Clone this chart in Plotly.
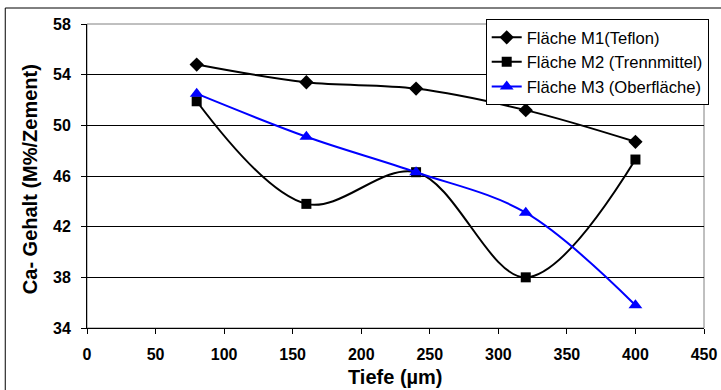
import plotly.graph_objects as go

tiefe = [80, 160, 240, 320, 400]
m1_teflon = [54.8, 53.4, 52.9, 51.2, 48.7]
m2_trennmittel = [51.9, 43.8, 46.3, 38.0, 47.3]
m3_oberflaeche = [52.5, 49.1, 46.3, 43.1, 35.8]

names = ["Fläche M1(Teflon)", "Fläche M2 (Trennmittel)", "Fläche M3 (Oberfläche)"]
x_ticks = [0, 50, 100, 150, 200, 250, 300, 350, 400, 450]
y_ticks = [34, 38, 42, 46, 50, 54, 58]
x_title = "Tiefe (µm)"
y_title = "Ca- Gehalt (M%/Zement)"

FONT = "Arial, Liberation Sans, sans-serif"

fig = go.Figure()
fig.add_trace(go.Scatter(
    x=tiefe, y=m1_teflon, name=names[0], mode="lines+markers",
    line=dict(color="black", width=2, shape="spline"),
    marker=dict(symbol="diamond", size=11, color="black")))
fig.add_trace(go.Scatter(
    x=tiefe, y=m2_trennmittel, name=names[1], mode="lines+markers",
    line=dict(color="black", width=2, shape="spline"),
    marker=dict(symbol="square", size=10, color="black")))
fig.add_trace(go.Scatter(
    x=tiefe, y=m3_oberflaeche, name=names[2], mode="lines+markers",
    line=dict(color="#0000FF", width=2, shape="spline"),
    marker=dict(symbol="triangle-up", size=12, color="#0000FF")))

L, R, T, B = 87, 15, 24, 62
W, H = 721, 390
pw, ph = W - L - R, H - T - B


def px_x(p):
    return (p - L) / pw


def px_y(p):
    return 1 - (p - T) / ph


shapes = [
    dict(type="rect", xref="paper", yref="paper", x0=0, x1=1, y0=0, y1=1,
         line=dict(color="#808080", width=1), layer="below"),
    dict(type="rect", xref="paper", yref="paper",
         x0=px_x(5), x1=px_x(730), y0=px_y(400), y1=px_y(8),
         line=dict(color="black", width=1), layer="below"),
]

annotations = [
    dict(text="<b>" + x_title + "</b>", xref="paper", yref="paper",
         x=px_x(397), y=px_y(377), xanchor="center", yanchor="middle",
         showarrow=False, font=dict(family=FONT, size=20, color="black")),
    dict(text="<b>" + y_title + "</b>", xref="paper", yref="paper",
         x=px_x(30), y=px_y(179), xanchor="center", yanchor="middle",
         textangle=-90, showarrow=False,
         font=dict(family=FONT, size=20, color="black")),
]

fig.update_layout(
    width=W, height=H,
    margin=dict(l=L, r=R, t=T, b=B, pad=0),
    paper_bgcolor="white", plot_bgcolor="white",
    font=dict(family=FONT, color="black"),
    showlegend=True,
    legend=dict(
        x=px_x(487), y=px_y(19), xanchor="left", yanchor="top",
        bgcolor="white", bordercolor="black", borderwidth=1,
        font=dict(family=FONT, size=16.6, color="black"),
        tracegroupgap=0, itemwidth=30),
    xaxis=dict(
        range=[0, 450], tickvals=x_ticks, ticktext=[str(v) for v in x_ticks],
        showgrid=False, zeroline=False, automargin=False,
        showline=True, linecolor="black", linewidth=1,
        ticks="outside", ticklen=5, tickcolor="black", ticklabelstandoff=7,
        tickfont=dict(family=FONT, size=16, color="black", weight="bold")),
    yaxis=dict(
        range=[34, 58], tickvals=y_ticks, ticktext=[str(v) for v in y_ticks],
        showgrid=True, gridcolor="black", gridwidth=1, zeroline=False,
        automargin=False,
        showline=True, linecolor="black", linewidth=1,
        ticks="outside", ticklen=5, tickcolor="black", ticklabelstandoff=7,
        tickfont=dict(family=FONT, size=16, color="black", weight="bold")),
    shapes=shapes,
    annotations=annotations,
)

fig.write_html(
    "out.html",
    config={"displayModeBar": False},
    post_script="document.body.style.margin='0';document.body.style.overflow='hidden';",
)
